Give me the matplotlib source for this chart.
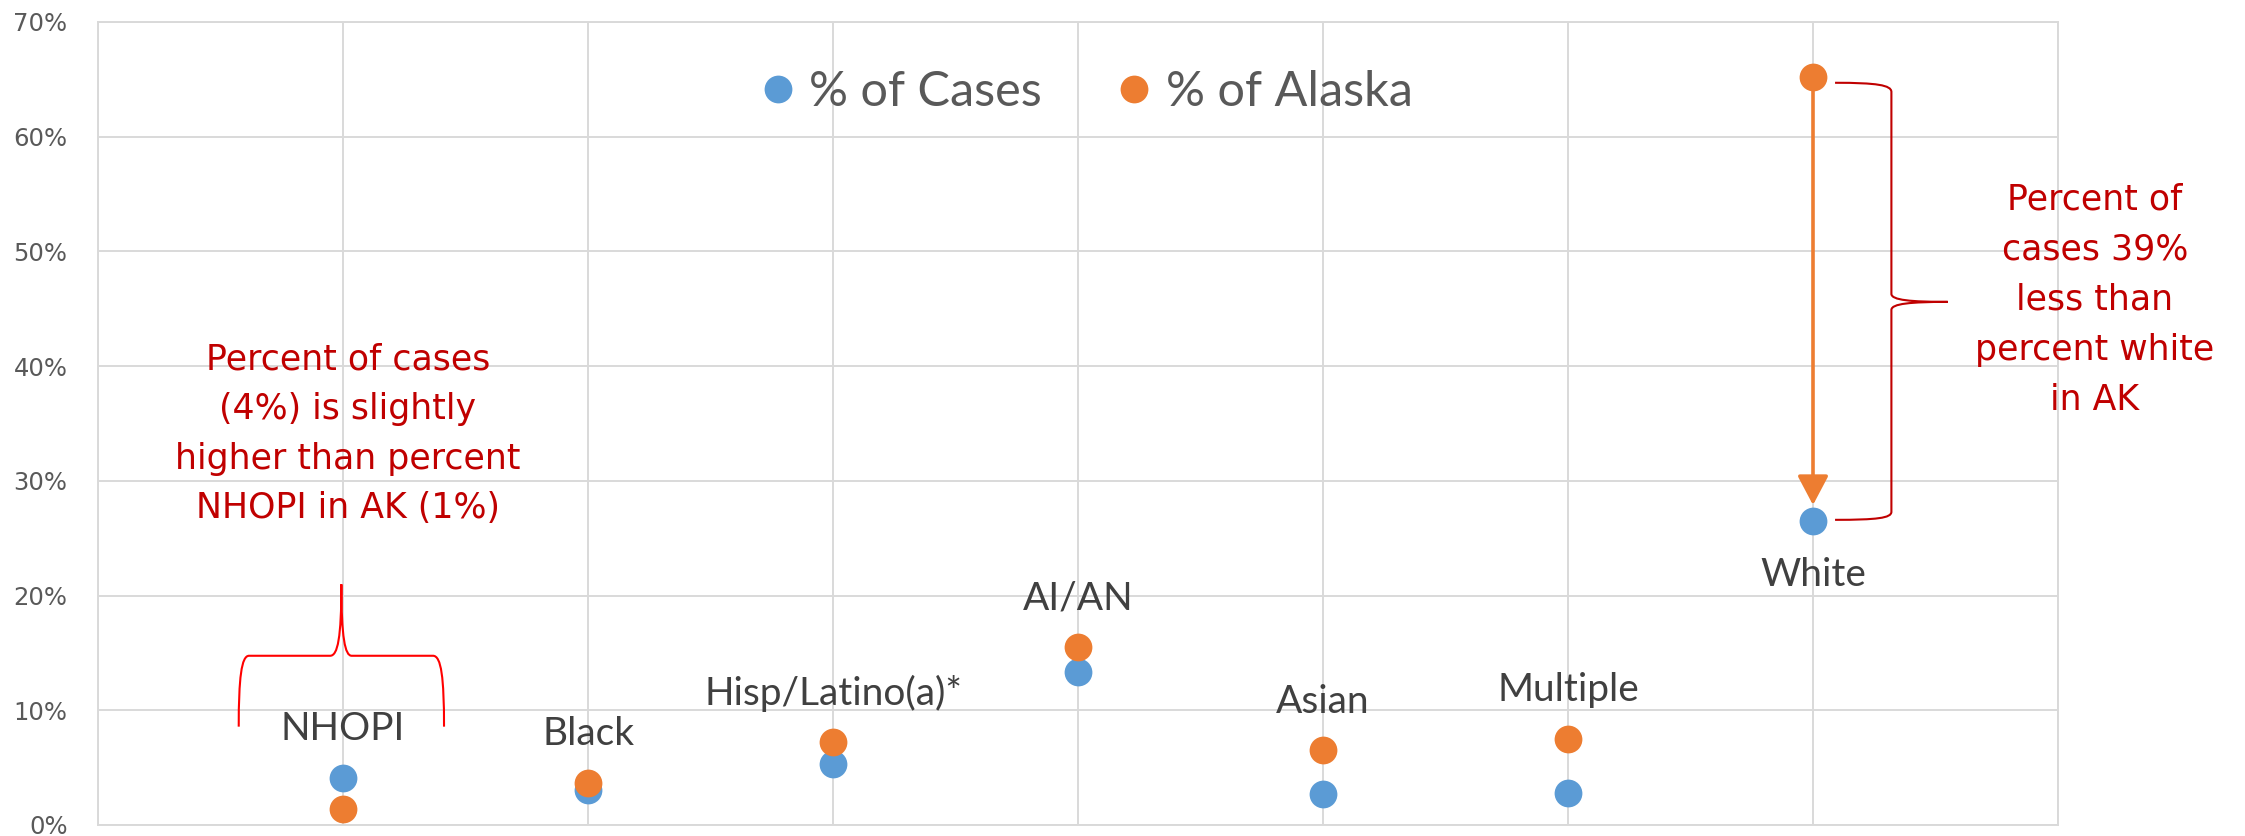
import matplotlib
matplotlib.use('Agg')
import matplotlib.pyplot as plt
from matplotlib.lines import Line2D
from matplotlib.path import Path
from matplotlib.patches import PathPatch, FancyArrowPatch
from matplotlib.ticker import PercentFormatter

# data
groups = ['NHOPI', 'Black', 'Hisp/Latino(a)*', 'AI/AN', 'Asian', 'Multiple', 'White']
pct_cases = [4.1, 3.05, 5.3, 13.3, 2.7, 2.8, 26.5]
pct_alaska = [1.4, 3.7, 7.2, 15.5, 6.5, 7.5, 65.2]
yticks = [0, 10, 20, 30, 40, 50, 60, 70]

blue = '#5B9BD5'
orange = '#ED7D31'
darkred = '#C00000'
grid_c = '#D9D9D9'

fig = plt.figure(figsize=(22.45, 8.36), dpi=100)
ax = fig.add_axes([0.0437, 0.0132, 0.873, 0.9605])

xs = list(range(1, len(groups) + 1))
ax.scatter(xs, pct_cases, s=400, color=blue, zorder=3, linewidths=0)
ax.scatter(xs, pct_alaska, s=400, color=orange, zorder=4, linewidths=0)

ax.set_xlim(0, 8)
ax.set_ylim(0, 70)
ax.set_xticks(range(0, 9))
ax.set_xticklabels([])
ax.set_yticks(yticks)
ax.yaxis.set_major_formatter(PercentFormatter(decimals=0))
ax.tick_params(axis='both', length=0)
ax.tick_params(axis='y', labelsize=17.5, labelcolor='#595959', pad=22)
ax.grid(True, color=grid_c, lw=1.4, zorder=0)
ax.set_axisbelow(True)
for sp in ax.spines.values():
    sp.set_color(grid_c)
    sp.set_linewidth(1.4)

# category labels, above the higher point (White below)
for x, g, c, a in zip(xs, groups, pct_cases, pct_alaska):
    if g == 'White':
        ax.annotate(g, (x, min(c, a)), xytext=(0, -39), textcoords='offset points',
                    ha='center', va='center', fontsize=28, family='Lato', color='#404040')
    else:
        ax.annotate(g, (x, max(c, a)), xytext=(0, 35), textcoords='offset points',
                    ha='center', va='center', fontsize=28, family='Lato', color='#404040')

# legend
handles = [Line2D([], [], ls='none', marker='o', ms=20, mfc=blue, mec='none'),
           Line2D([], [], ls='none', marker='o', ms=20, mfc=orange, mec='none')]
leg = ax.legend(handles, ['% of Cases', '% of Alaska'], loc='center',
                bbox_to_anchor=(0.505, 0.913), ncol=2, frameon=False,
                handlelength=0.6, handletextpad=0.35, columnspacing=1.6,
                prop={'family': 'Lato', 'size': 35})
for t in leg.get_texts():
    t.set_color('#595959')

# arrow from % of Alaska to % of Cases for White
wx = xs[-1]
arr = FancyArrowPatch((wx, pct_alaska[-1]), (wx, pct_cases[-1]),
                      arrowstyle='-|>,head_length=18,head_width=9.5',
                      mutation_scale=1, shrinkA=0, shrinkB=11.5,
                      color=orange, lw=2.6, zorder=5)
ax.add_patch(arr)

# brace over NHOPI
M, L, C = Path.MOVETO, Path.LINETO, Path.CURVE4
verts = [(0.574, 8.57), (0.574, 12.8), (0.585, 14.75), (0.616, 14.75),
         (0.947, 14.75),
         (0.978, 14.75), (0.993, 16.3), (0.993, 20.98),
         (0.993, 16.3), (1.008, 14.75), (1.035, 14.75),
         (1.367, 14.75),
         (1.401, 14.75), (1.412, 12.8), (1.412, 8.57)]
codes = [M, C, C, C, L, C, C, C, C, C, C, L, C, C, C]
ax.add_patch(PathPatch(Path(verts, codes), fill=False, ec='#FF0000', lw=1.5,
                       zorder=2, clip_on=False))

# brace for White
verts = [(7.09, 64.7), (7.26, 64.7), (7.32, 64.5), (7.32, 63.9),
         (7.32, 46.3),
         (7.32, 45.75), (7.40, 45.6), (7.55, 45.6),
         (7.40, 45.6), (7.32, 45.45), (7.32, 44.9),
         (7.32, 27.3),
         (7.32, 26.75), (7.26, 26.6), (7.09, 26.6)]
ax.add_patch(PathPatch(Path(verts, codes), fill=False, ec=darkred, lw=1.5,
                       zorder=2, clip_on=False))

ax.text(1.02, 34.1, 'Percent of cases\n(4%) is slightly\nhigher than percent\nNHOPI in AK (1%)',
        ha='center', va='center', fontsize=25, color=darkred, linespacing=1.58,
        family='DejaVu Sans', zorder=6)
ax.text(8.15, 45.8, 'Percent of\ncases 39%\nless than\npercent white\nin AK',
        ha='center', va='center', fontsize=25, color=darkred, linespacing=1.6,
        family='DejaVu Sans', zorder=6, clip_on=False)

fig.savefig('out.png', dpi=100)
